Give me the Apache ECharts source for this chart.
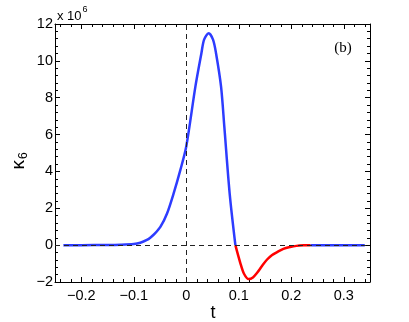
<!DOCTYPE html>
<html>
<head>
<meta charset="utf-8">
<script src="https://cdn.jsdelivr.net/npm/echarts@6/dist/echarts.min.js"></script>
<style>
html, body { margin: 0; padding: 0; background: #fff; }
#main { width: 409px; height: 322px; }
</style>
</head>
<body>
<div id="main"></div>
<script>
// kappa_6 (x 1e6) against t
const tBlue1 = [-0.234, -0.2, -0.15, -0.125, -0.1, -0.0875, -0.075, -0.068, -0.06, -0.049, -0.0366, -0.024, -0.0113, 0, 0.0174, 0.0288, 0.034, 0.0427, 0.051, 0.0568, 0.0663, 0.0726, 0.0827, 0.0936];
const vBlue1 = [0, 0, 0.005, 0.02, 0.06, 0.13, 0.28, 0.42, 0.62, 1.0, 1.72, 2.81, 4.07, 5.35, 8.6, 10.4, 11.15, 11.5, 11.15, 10.4, 8.6, 6.4, 2.8, 0];
const tRed = [0.0936, 0.103, 0.11, 0.119, 0.127, 0.135, 0.145, 0.154, 0.163, 0.173, 0.185, 0.198, 0.21, 0.224, 0.237];
const vRed = [0, -0.97, -1.55, -1.84, -1.75, -1.5, -1.1, -0.78, -0.55, -0.38, -0.2, -0.1, -0.04, -0.01, 0];
const tBlue2 = [0.237, 0.34];
const vBlue2 = [0, 0];

const xMajor = [-0.2, -0.1, 0, 0.1, 0.2, 0.3];
const xMinor = [-0.24, -0.22, -0.18, -0.16, -0.14, -0.12, -0.08, -0.06, -0.04, -0.02,
                0.02, 0.04, 0.06, 0.08, 0.12, 0.14, 0.16, 0.18, 0.22, 0.24, 0.26, 0.28, 0.32, 0.34];

function pairs(t, v) {
    return t.map((x, i) => [x, v[i]]);
}
function minus(v) {
    return String(v).replace('-', '\u2212');
}

const chart = echarts.init(document.getElementById('main'));
const font = 'Liberation Sans, Arial, sans-serif';
const black = '#000';

function xAx(pos, vals, len, labels, line) {
    return {
        type: 'value', position: pos, min: -0.25, max: 0.35,
        axisLine: { show: line, onZero: false, lineStyle: { color: black, width: 1 } },
        axisTick: { show: true, inside: true, length: len, customValues: vals, lineStyle: { color: black, width: 1 } },
        axisLabel: { show: labels, customValues: vals, formatter: minus, color: black, fontFamily: font, fontSize: 14.5, margin: 6 },
        splitLine: { show: false }
    };
}
function yAx(pos, labels) {
    return {
        type: 'value', position: pos, min: -2, max: 12, interval: 2,
        axisLine: { show: true, onZero: false, lineStyle: { color: black, width: 1 } },
        axisTick: { show: true, inside: true, length: 5, lineStyle: { color: black, width: 1 } },
        minorTick: { show: true, splitNumber: 5, length: 3, lineStyle: { color: black, width: 1 } },
        axisLabel: { show: labels, formatter: minus, color: black, fontFamily: font, fontSize: 14.5, margin: 2 },
        splitLine: { show: false }
    };
}

const lineW = 2.5;
const blue = '#2d3cff';
const red = '#ff0000';

chart.setOption({
    animation: false,
    grid: { left: 55, top: 24, right: 39, bottom: 40, containLabel: false, outerBoundsMode: 'none' },
    xAxis: [
        xAx('bottom', xMajor, 5, true, true),
        xAx('top', xMajor, 5, false, true),
        xAx('bottom', xMinor, 3, false, false),
        xAx('top', xMinor, 3, false, false)
    ],
    yAxis: [yAx('left', true), yAx('right', false)],
    series: [
        {
            type: 'line', data: pairs(tBlue1, vBlue1), showSymbol: false, smooth: 0.3,
            lineStyle: { color: blue, width: lineW }, z: 3,
            markLine: {
                silent: true, symbol: 'none', label: { show: false },
                lineStyle: { color: '#222', width: 1, type: [5, 4] },
                data: [{ xAxis: 0 }, { yAxis: 0 }]
            }
        },
        { type: 'line', data: pairs(tRed, vRed), showSymbol: false, smooth: 0.3, lineStyle: { color: red, width: lineW }, z: 3 },
        { type: 'line', data: pairs(tBlue2, vBlue2), showSymbol: false, lineStyle: { color: blue, width: lineW }, z: 3 }
    ],
    graphic: [
        {
            type: 'text', left: 57, top: 5,
            style: {
                text: '{a|x 10}{b|6}',
                rich: {
                    a: { fontFamily: font, fontSize: 13, fill: black, padding: [8, 0, 0, 0] },
                    b: { fontFamily: font, fontSize: 9, fill: black, padding: [0, 0, 6, 1] }
                }
            }
        },
        {
            type: 'text', x: 343, y: 48,
            style: { text: '(b)', fontFamily: 'Liberation Serif, Times New Roman, serif', fontSize: 15, fill: black, align: 'center', verticalAlign: 'middle' }
        },
        {
            type: 'text', x: 213, y: 313,
            style: { text: 't', fontFamily: font, fontSize: 18, fill: black, align: 'center', verticalAlign: 'middle' }
        },
        {
            // rotated axis title kappa_6
            type: 'group', x: 19, y: 160, rotation: Math.PI / 2,
            children: [
                { type: 'text', x: 0, y: 0, style: { text: '\u03ba', fontFamily: font, fontSize: 19, fill: black, align: 'right', verticalAlign: 'middle' } },
                { type: 'text', x: 1, y: 5, style: { text: '6', fontFamily: font, fontSize: 12, fill: black, align: 'left', verticalAlign: 'middle' } }
            ]
        }
    ]
});
</script>
</body>
</html>
